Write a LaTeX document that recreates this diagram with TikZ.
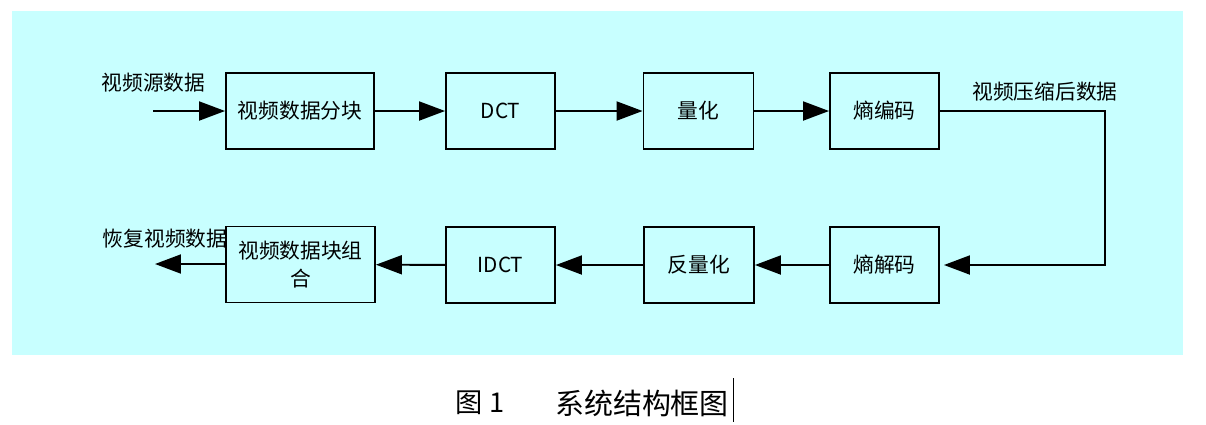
\documentclass[tikz,border=0pt]{standalone}
\usepackage{fontspec}
\setmainfont{Noto Sans CJK SC}
\usetikzlibrary{arrows.meta}
\definecolor{bgcyan}{RGB}{200,255,255}
\begin{document}
\begin{tikzpicture}[x=0.02cm,y=-0.02cm,
    block/.style={draw,line width=1.1pt,minimum height=1.52cm,inner sep=0pt,align=center,font=\fontsize{11.8}{16}\selectfont},
    link/.style={line width=1.1pt,-{Triangle[length=0.52cm,width=0.38cm]}},
    tag/.style={font=\fontsize{11.8}{14}\selectfont,inner sep=0pt}]
    \useasboundingbox (0,0) rectangle (1206,424);
    %% background
    \fill[bgcyan] (12,11) rectangle (1183,355);
    %% upper row
    \node[block,minimum width=2.96cm] (split) at (300,111) {视频数据分块};
    \node[block,minimum width=2.18cm] (dct) at (500.5,111) {DCT};
    \node[block,minimum width=2.2cm] (quant) at (698.5,111) {量化};
    \node[block,minimum width=2.18cm] (enc) at (884.5,111) {熵编码};
    %% lower row
    \node[block,minimum width=2.18cm] (dec) at (884.5,265) {熵解码};
    \node[block,minimum width=2.2cm] (iquant) at (699,265) {反量化};
    \node[block,minimum width=2.18cm] (idct) at (500.5,265) {IDCT};
    \node[block,minimum width=2.98cm] (merge) at (300.5,264.5) {视频数据块组\\合};
    %% labels
    \node[tag] (srclabel) at (153.5,83) {视频源数据};
    \node[tag] (cmplabel) at (1045,92) {视频压缩后数据};
    \node[tag] (outlabel) at (165,239) {恢复视频数据};
    \coordinate (in) at (153,111);
    \coordinate (out) at (155,264);
    %% connectors
    \draw[link] (in) -- (split);
    \draw[link] (split) -- (dct);
    \draw[link] (dct) -- (quant);
    \draw[link] (quant) -- (enc);
    \draw[link] (enc.east) -- ++(165,0) |- ([xshift=0.08cm]dec.east);
    \draw[link] (dec) -- (iquant);
    \draw[link] (iquant) -- (idct);
    \draw[link] (idct) -- (merge);
    \draw[link] (merge.west |- out) -- (out);
    %% caption
    \node[font=\fontsize{15.5}{18}\selectfont,inner sep=0pt] (fignum) at (480,403) {图 1};
    \node[font=\fontsize{16.5}{18}\selectfont,inner sep=0pt] (figname) at (642,403) {系统结构框图};
    \draw[line width=0.5pt] (733,378) -- (733,422);
\end{tikzpicture}
\end{document}
